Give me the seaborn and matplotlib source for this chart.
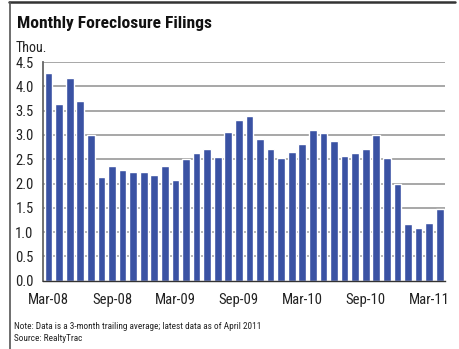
import matplotlib
matplotlib.use("Agg")
import matplotlib.pyplot as plt
from matplotlib.lines import Line2D
import seaborn as sns
import pandas as pd

# Monthly foreclosure filings, thousands (3-month trailing average), Mar-08 .. Apr-11
months = [
    "Mar-08", "Apr-08", "May-08", "Jun-08", "Jul-08", "Aug-08", "Sep-08", "Oct-08", "Nov-08", "Dec-08",
    "Jan-09", "Feb-09", "Mar-09", "Apr-09", "May-09", "Jun-09", "Jul-09", "Aug-09", "Sep-09", "Oct-09",
    "Nov-09", "Dec-09", "Jan-10", "Feb-10", "Mar-10", "Apr-10", "May-10", "Jun-10", "Jul-10", "Aug-10",
    "Sep-10", "Oct-10", "Nov-10", "Dec-10", "Jan-11", "Feb-11", "Mar-11", "Apr-11",
]
filings = [
    4.27, 3.63, 4.18, 3.69, 2.99, 2.14, 2.35, 2.28, 2.24, 2.24,
    2.18, 2.35, 2.08, 2.50, 2.62, 2.70, 2.55, 3.05, 3.30, 3.38,
    2.92, 2.70, 2.53, 2.64, 2.82, 3.11, 3.03, 2.88, 2.57, 2.62,
    2.70, 2.99, 2.53, 2.00, 1.17, 1.09, 1.19, 1.48,
]
shown_labels = ["Mar-08", "Sep-08", "Mar-09", "Sep-09", "Mar-10", "Sep-10", "Mar-11"]
y_ticks = [0.0, 0.5, 1.0, 1.5, 2.0, 2.5, 3.0, 3.5, 4.0, 4.5]

df = pd.DataFrame({"month": months, "filings": filings})

sns.set_style("white")
plt.rcParams["font.family"] = ["Roboto Condensed", "DejaVu Sans"]

BAR = "#3A52A3"
GRID = "#a0a0a0"
AXIS = "#666666"
TXT = "#222222"

fig = plt.figure(figsize=(4.59, 3.49), dpi=100)
ax = fig.add_axes([43.3 / 459, 1 - 280.7 / 349, (445 - 43.3) / 459, (280.7 - 62) / 349])

sns.barplot(data=df, x="month", y="filings", color=BAR, saturation=1,
            width=0.74, ax=ax, order=months, zorder=3)

ax.set_xlim(-0.5, len(months) - 0.5)
ax.set_ylim(0, 4.5)
ax.set_xlabel("")
ax.set_ylabel("")

# horizontal grid behind the bars
ax.set_yticks(y_ticks)
ax.set_yticklabels([f"{v:.1f}" for v in y_ticks], fontsize=10.5, color=TXT)
for v in y_ticks[1:]:
    ax.axhline(v, color=GRID, lw=1.3, zorder=1)

# month labels centred on bars, tick marks at category boundaries
pos = [months.index(m) for m in shown_labels]
ax.set_xticks(pos)
ax.set_xticklabels(shown_labels, fontsize=10.5, color=TXT)
ax.tick_params(axis="x", which="major", length=0, pad=9)
ax.set_xticks([p - 0.5 for p in pos], minor=True)
ax.tick_params(axis="x", which="minor", length=4, width=1, color="#333333", direction="out")
ax.tick_params(axis="y", length=4, width=1, color="#333333", direction="out", pad=3)

for side in ["top", "right"]:
    ax.spines[side].set_visible(False)
ax.spines["left"].set_color(AXIS)
ax.spines["left"].set_linewidth(1.3)
ax.spines["bottom"].set_color("#333333")
ax.spines["bottom"].set_linewidth(1.0)
ax.spines["bottom"].set_zorder(4)

# titles and notes
fig.text(17 / 459, 1 - 28 / 349, "Monthly Foreclosure Filings", fontsize=12.6,
         fontweight="bold", va="baseline", ha="left", color="#111111")
fig.text(16 / 459, 1 - 51.5 / 349, "Thou.", fontsize=10, va="baseline", ha="left", color=TXT)
fig.text(14 / 459, 1 - 329 / 349,
         "Note: Data is a 3-month trailing average; latest data as of April 2011",
         fontsize=6.7, va="baseline", ha="left", color=TXT)
fig.text(14 / 459, 1 - 341 / 349, "Source: RealtyTrac",
         fontsize=6.7, va="baseline", ha="left", color=TXT)

# frame: top rule and left rule
fig.add_artist(Line2D([9 / 459, 455 / 459], [1 - 1.5 / 349, 1 - 1.5 / 349],
                      transform=fig.transFigure, color="#333333", lw=1.8))
fig.add_artist(Line2D([9.5 / 459, 9.5 / 459], [0, 1 - 1.5 / 349],
                      transform=fig.transFigure, color="#555555", lw=1.2))

fig.savefig("out.png", dpi=100)
